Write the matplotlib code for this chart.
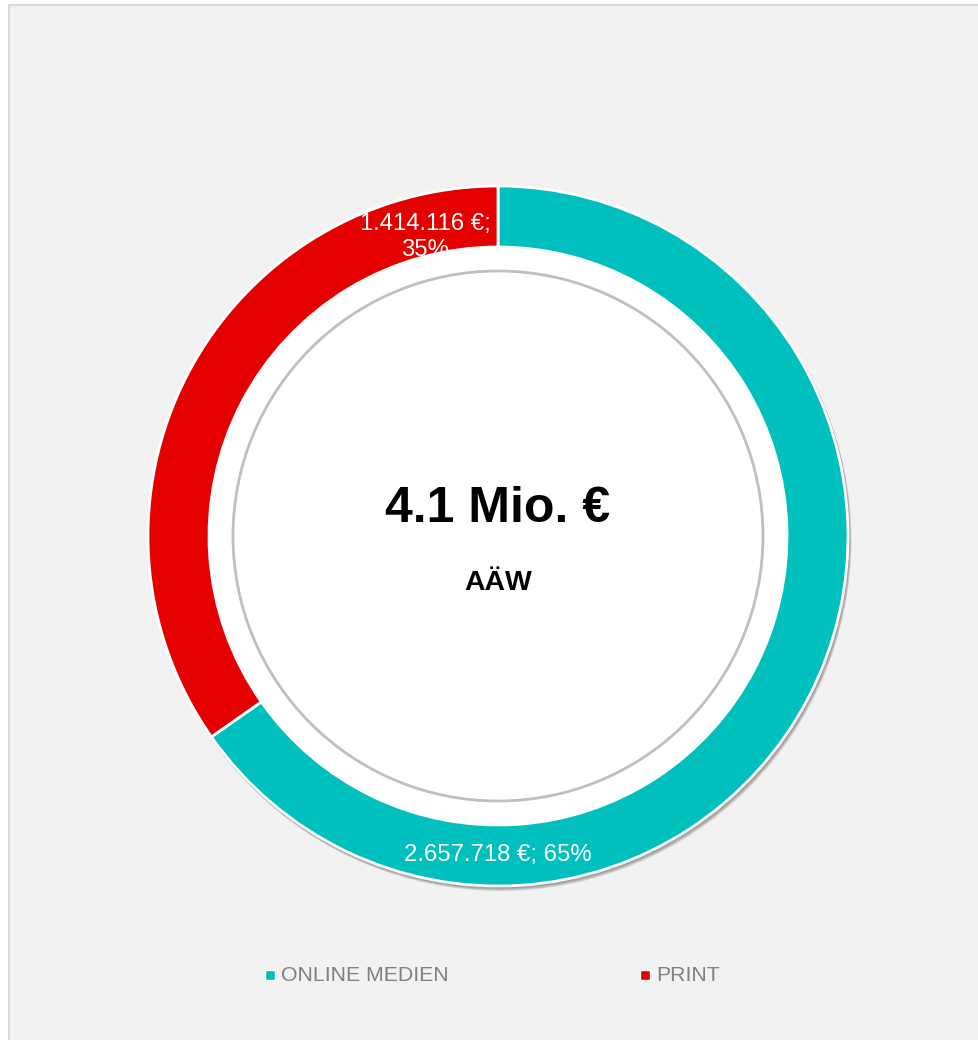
import matplotlib.pyplot as plt
from matplotlib.patches import Circle, Rectangle

# data
categories = ['ONLINE MEDIEN', 'PRINT']
values = [2657718, 1414116]
colors = ['#00c0be', '#e50000']
total_label = '4.1 Mio. €'
sub_label = 'AÄW'

plt.rcParams['font.family'] = ['Liberation Sans', 'DejaVu Sans']

W, H = 979, 1040
fig = plt.figure(figsize=(W / 100, H / 100), dpi=100)
fig.patch.set_facecolor('white')
ax = fig.add_axes([0, 0, 1, 1])

# chart area background with a thin border on top/left
ax.add_patch(Rectangle((9.5, -5), W + 10, H - 4.5 + 5, facecolor='#f2f2f2',
                       edgecolor='#d9d9d9', linewidth=1.5, zorder=0))

cx, cy = 498, H - 536
r_out, ring = 350, 61

# soft shadow under the ring (stronger at the bottom)
for i, a in enumerate([0.06, 0.07, 0.08, 0.09, 0.10, 0.10]):
    ax.add_patch(Circle((cx + 0.5 * i, cy - 0.8 * i), r_out + 1, facecolor='black',
                        alpha=a, edgecolor='none', zorder=1))

wedges, _ = ax.pie(values, colors=colors, startangle=90, counterclock=False,
                   radius=r_out, center=(cx, cy), frame=True,
                   wedgeprops=dict(width=ring, edgecolor='white', linewidth=2))
for w in wedges:
    w.set_zorder(2)
ax.set_xlim(0, W)
ax.set_ylim(0, H)
ax.set_aspect('equal')
ax.axis('off')

# inner white disc and grey ring
ax.add_patch(Circle((cx, cy), r_out - ring, facecolor='white', edgecolor='none', zorder=3))
ax.add_patch(Circle((cx, cy), 265, facecolor='white', edgecolor='#bfbfbf', linewidth=2, zorder=4))

# data labels
total = sum(values)
def fmt(v):
    return '{:,}'.format(v).replace(',', '.') + ' €'

ax.text(cx, H - 855, f'{fmt(values[0])}; {round(values[0] / total * 100)}%',
        ha='center', va='center', color='white', fontsize=17.2, zorder=5)
ax.text(425, H - 237, f'{fmt(values[1])};\n{round(values[1] / total * 100)}%',
        ha='center', va='center', color='white', fontsize=17.2, zorder=2.5,
        linespacing=1.25)

# centre text
ax.text(cx, H - 509, total_label, ha='center', va='center', fontsize=36,
        fontweight='bold', color='black', zorder=5)
ax.text(cx, H - 583, sub_label, ha='center', va='center', fontsize=20.4,
        fontweight='bold', color='black', zorder=5)

# legend
legend_x = [270, 645]
for x, lab, col in zip(legend_x, categories, colors):
    ax.add_patch(Rectangle((x - 5, H - 980), 10, 10, facecolor=col,
                           edgecolor='white', linewidth=1, zorder=5))
    ax.text(x + 11, H - 976, lab, ha='left', va='center', fontsize=15.3,
            color='#808080', zorder=5)

fig.savefig('out.png', dpi=100)
